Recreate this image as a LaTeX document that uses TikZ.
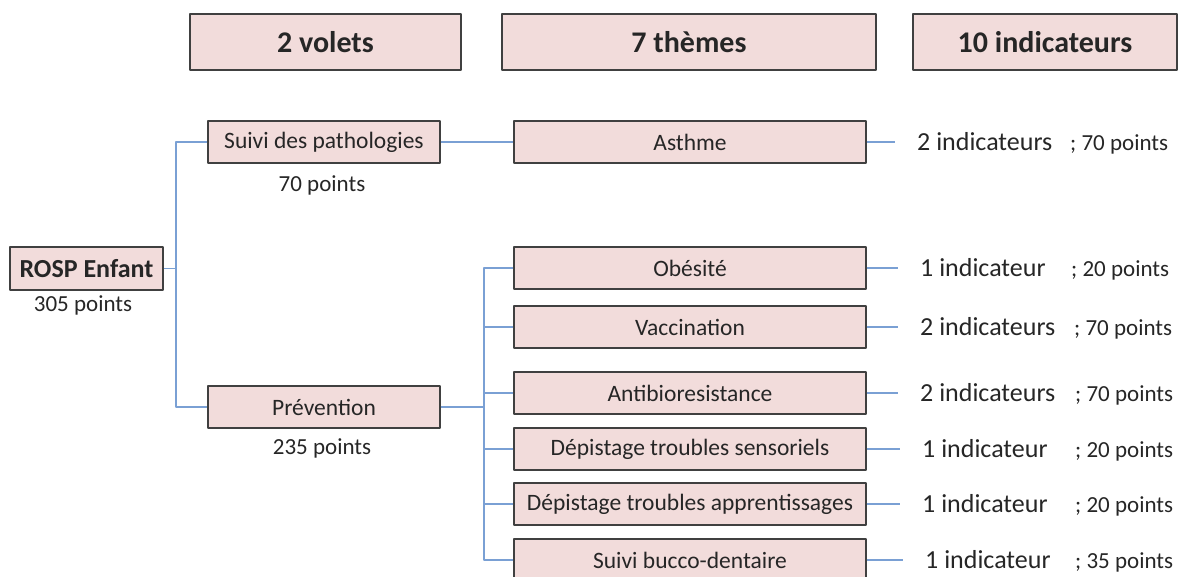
\documentclass[tikz,border=0pt]{standalone}
\usepackage{fontspec}
\setmainfont{Carlito}
\definecolor{rose}{RGB}{242,220,219}
\definecolor{trait}{RGB}{64,64,64}
\definecolor{bleu}{RGB}{122,160,212}
\definecolor{texte}{RGB}{38,38,38}
\tikzset{
	boite/.style={draw=trait, fill=rose, line width=1.1pt, minimum height=42pt, inner sep=0pt, text=texte, font=\fontsize{23.5}{26}\selectfont},
	titre/.style={boite, minimum height=56pt, font=\fontsize{30}{34}\selectfont\bfseries},
	lien/.style={draw=bleu, line width=1.3pt},
	legende/.style={text=texte, inner sep=0pt, font=\fontsize{23}{26}\selectfont},
	indic/.style={legende, anchor=west, font=\fontsize{26}{30}\selectfont},
	pts/.style={legende, anchor=base west, font=\fontsize{23}{26}\selectfont},
}
\begin{document}
\begin{tikzpicture}[x=1pt, y=-1pt, line join=round]
	\useasboundingbox (0,0) rectangle (1179,577);
	% en-tetes
	\node[titre, minimum width=271pt] (h1) at (325.5,42) {2 volets};
	\node[titre, minimum width=374pt] (h2) at (689,42) {7 thèmes};
	\node[titre, minimum width=264pt] (h3) at (1045,42) {10 indicateurs};
	% racine et volets
	\node[boite, minimum width=153pt, minimum height=43pt, font=\fontsize{26}{30}\selectfont\bfseries] (rosp) at (86.5,268.5) {ROSP Enfant};
	\node[legende] (prosp) at (83,305) {305 points};
	\node[boite, minimum width=232pt] (suivi) at (324,142) {Suivi des pathologies};
	\node[legende] (psuivi) at (322,185) {70 points};
	\node[boite, minimum width=232pt] (prev) at (324,407) {Prévention};
	\node[legende] (pprev) at (322,448) {235 points};
	\coordinate (j1) at (176,268.5);
	\coordinate (j2) at (484,407);
	\draw[lien] (rosp.east) -- (j1);
	\draw[lien] (suivi.west) -| (j1) |- (prev.west);
	\draw[lien] (prev.east) -- (j2);
	% themes et indicateurs
	\foreach \nom/\y/\txt/\xi/\ind/\xp/\p in {
		asthme/142/Asthme/917/2 indicateurs/1070/70,
		obes/268/Obésité/920/1 indicateur/1071/20,
		vacc/327/Vaccination/920/2 indicateurs/1074/70,
		anti/393/Antibioresistance/920/2 indicateurs/1075/70,
		sens/449/Dépistage troubles sensoriels/922/1 indicateur/1075/20,
		appr/504/Dépistage troubles apprentissages/922/1 indicateur/1075/20,
		bucco/560/Suivi bucco-dentaire/925/1 indicateur/1075/35}{
		\node[boite, minimum width=352pt] (\nom) at (690,\y) {\txt};
		\node[indic] (i\nom) at (\xi,\y) {\ind};
		\node[pts] (p\nom) at (\xp,0 |- i\nom.base) {; \p{} points};
		\draw[lien, shorten >=22pt] (\nom.east) -- (\nom.east -| i\nom.west);
	}
	\draw[lien] (suivi.east) -- (asthme.west);
	\foreach \nom in {obes,vacc,anti,sens,appr,bucco}
		\draw[lien] (\nom.west) -| (j2);
\end{tikzpicture}
\end{document}
